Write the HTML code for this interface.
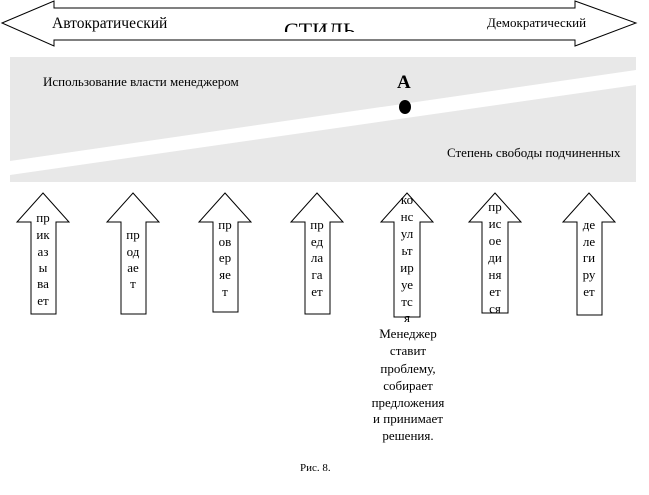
<!DOCTYPE html>
<html><head><meta charset="utf-8"><style>
html,body{margin:0;padding:0;background:#fff;}
svg{display:block;}
text{font-family:"Liberation Serif","DejaVu Serif",serif;fill:#000;}
</style></head><body>
<svg width="649" height="495" viewBox="0 0 649 495" xmlns="http://www.w3.org/2000/svg">
<defs><clipPath id="c"><rect x="0" y="0" width="649" height="32"/></clipPath></defs>
<polygon points="2,23 54,1 54,8 575,8 575,1 636,23 575,46 575,40 54,40 54,46" fill="#fff" stroke="#000" stroke-width="1"/>
<text x="52" y="28" font-size="15.5">Автократический</text>
<text x="487" y="27" font-size="13">Демократический</text>
<text x="284" y="38" font-size="22" clip-path="url(#c)">СТИЛЬ</text>
<rect x="10" y="57" width="626" height="125" fill="#e8e8e8"/>
<polygon points="10,161 636,70 636,85 10,175" fill="#fff"/>
<text x="43" y="86" font-size="13">Использование власти менеджером</text>
<text x="397" y="88" font-size="19" font-weight="bold">А</text>
<ellipse cx="405" cy="107" rx="6" ry="7" fill="#000"/>
<text x="447" y="157" font-size="13">Степень свободы подчиненных</text>
<g fill="#fff" stroke="#000" stroke-width="1">
<polygon points="43,193 69,222 56,222 56,314 31,314 31,222 17,222"/>
<polygon points="133,193 159,222 146,222 146,314 121,314 121,222 107,222"/>
<polygon points="225,193 251,222 238,222 238,312 213,312 213,222 199,222"/>
<polygon points="317,193 343,222 330,222 330,314 305,314 305,222 291,222"/>
<polygon points="407,193 433,222 420,222 420,317 394,317 394,222 381,222"/>
<polygon points="495,193 521,222 508,222 508,313 482,313 482,222 469,222"/>
<polygon points="589,193 615,222 602,222 602,315 577,315 577,222 563,222"/>
</g>
<g font-size="13" text-anchor="middle">
<text x="43" y="222">пр</text><text x="43" y="239">ик</text><text x="43" y="256">аз</text><text x="43" y="272">ы</text><text x="43" y="288">ва</text><text x="43" y="305">ет</text>
<text x="133" y="239">пр</text><text x="133" y="256">од</text><text x="133" y="272">ае</text><text x="133" y="288">т</text>
<text x="225" y="229">пр</text><text x="225" y="246">ов</text><text x="225" y="262">ер</text><text x="225" y="279">яе</text><text x="225" y="296">т</text>
<text x="317" y="229">пр</text><text x="317" y="246">ед</text><text x="317" y="262">ла</text><text x="317" y="279">га</text><text x="317" y="296">ет</text>
<text x="407" y="204">ко</text><text x="407" y="221">нс</text><text x="407" y="238">ул</text><text x="407" y="255">ьт</text><text x="407" y="272">ир</text><text x="407" y="289">уе</text><text x="407" y="306">тс</text><text x="407" y="322">я</text>
<text x="495" y="211">пр</text><text x="495" y="228">ис</text><text x="495" y="245">ое</text><text x="495" y="262">ди</text><text x="495" y="279">ня</text><text x="495" y="296">ет</text><text x="495" y="313">ся</text>
<text x="589" y="229">де</text><text x="589" y="246">ле</text><text x="589" y="262">ги</text><text x="589" y="279">ру</text><text x="589" y="296">ет</text>
</g>
<g font-size="13" text-anchor="middle">
<text x="408" y="338">Менеджер</text>
<text x="408" y="355">ставит</text>
<text x="408" y="373">проблему,</text>
<text x="408" y="390">собирает</text>
<text x="408" y="407">предложения</text>
<text x="408" y="423">и принимает</text>
<text x="408" y="440">решения.</text>
</g>
<text x="300" y="471" font-size="11">Рис. 8.</text>
</svg>
</body></html>
